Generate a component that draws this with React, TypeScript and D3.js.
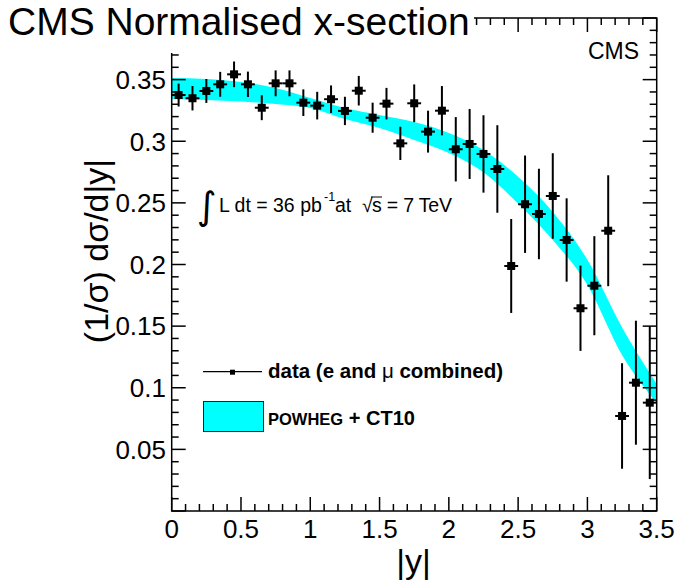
import React from "react";
import * as d3 from "d3";

// bin centres in |y| (bins of width 0.1)
const binCenters = [
  0.05, 0.15, 0.25, 0.35, 0.45, 0.55, 0.65, 0.75, 0.85, 0.95,
  1.05, 1.15, 1.25, 1.35, 1.45, 1.55, 1.65, 1.75, 1.85, 1.95,
  2.05, 2.15, 2.25, 2.35, 2.45, 2.55, 2.65, 2.75, 2.85, 2.95,
  3.05, 3.15, 3.25, 3.35, 3.45,
];
const binHalfWidth = 0.05;

// measured normalised cross-section (e and mu combined)
const dataValues = [
  0.3375, 0.3349, 0.3408, 0.3462, 0.3543, 0.3462, 0.3272, 0.347, 0.347, 0.3313,
  0.3289, 0.3341, 0.3246, 0.341, 0.3191, 0.3305, 0.2983, 0.3308, 0.3078, 0.3248,
  0.2935, 0.2978, 0.2897, 0.2775, 0.1988, 0.2489, 0.241, 0.2556, 0.2199, 0.1645,
  0.1828, 0.2274, 0.0771, 0.1041, 0.0879,
];
const dataErrors = [
  0.0093, 0.0099, 0.0097, 0.0101, 0.0104, 0.0103, 0.0101, 0.0105, 0.0105, 0.0108,
  0.0112, 0.0112, 0.0115, 0.012, 0.0122, 0.0128, 0.0135, 0.0153, 0.017, 0.02,
  0.0261, 0.0284, 0.0314, 0.0355, 0.0381, 0.0395, 0.0367, 0.0347, 0.0338, 0.0346,
  0.0402, 0.045, 0.0428, 0.0503, 0.062,
];

// POWHEG + CT10 prediction band
const bandX = [0, 0.25, 0.5, 0.75, 1.0, 1.25, 1.5, 1.75, 2.0, 2.25, 2.5, 2.75, 3.0, 3.25, 3.5];
const bandHigh = [0.3513, 0.3505, 0.3481, 0.3432, 0.3351, 0.327, 0.3213, 0.3156, 0.3067, 0.2929, 0.2712, 0.2426, 0.2038, 0.1489, 0.103];
const bandLow = [0.3343, 0.3335, 0.3323, 0.3302, 0.327, 0.3181, 0.3108, 0.3011, 0.2905, 0.2748, 0.2493, 0.2199, 0.1834, 0.1265, 0.0876];

const xTickLabels = ["0", "0.5", "1", "1.5", "2", "2.5", "3", "3.5"];
const yTickLabels = ["0.05", "0.1", "0.15", "0.2", "0.25", "0.3", "0.35"];

const FONT = "'Liberation Sans', Arial, Helvetica, sans-serif";

export default function App() {
  const W = 677;
  const H = 581;
  const left = 171.7, right = 656.7, top = 18, bottom = 511;

  const x = d3.scaleLinear().domain([0, 3.5]).range([left, right]);
  const y = d3.scaleLinear().domain([0, 0.4]).range([bottom, top]);

  const band = d3
    .area<number>()
    .x((_, i) => x(bandX[i]))
    .y0((_, i) => y(bandLow[i]))
    .y1((_, i) => y(bandHigh[i]))
    .curve(d3.curveMonotoneX);

  const isMajor = (v: number, step: number) => Math.abs(v / step - Math.round(v / step)) < 1e-6;
  const xTicks = x.ticks(35);
  const yTicks = y.ticks(40);
  const majLen = 14;
  const minLen = 7;

  return (
    <svg
      width={W}
      height={H}
      style={{ position: "absolute", left: 0, top: 0, background: "#fff" }}
      fontFamily={FONT}
    >
      {/* theory band */}
      <path d={band(bandX) || ""} fill="#00ffff" stroke="none" />

      {/* data points */}
      <g stroke="#000" strokeWidth={2}>
        {binCenters.map((c, i) => (
          <g key={i}>
            <line x1={x(c)} x2={x(c)} y1={y(dataValues[i] + dataErrors[i])} y2={y(dataValues[i] - dataErrors[i])} />
            <line x1={x(c - binHalfWidth)} x2={x(c + binHalfWidth)} y1={y(dataValues[i])} y2={y(dataValues[i])} />
            <rect x={x(c) - 4} y={y(dataValues[i]) - 4} width={8} height={8} fill="#000" stroke="none" />
          </g>
        ))}
      </g>

      {/* frame and ticks */}
      <g stroke="#000" strokeWidth={1.5} fill="none">
        <rect x={left} y={top} width={right - left} height={bottom - top} />
        {xTicks.map((t, i) => {
          const len = isMajor(t, 0.5) ? majLen : minLen;
          return (
            <g key={"x" + i}>
              <line x1={x(t)} x2={x(t)} y1={bottom} y2={bottom - len} />
              <line x1={x(t)} x2={x(t)} y1={top} y2={top + len} />
            </g>
          );
        })}
        {yTicks.map((t, i) => {
          const len = isMajor(t, 0.05) ? majLen : minLen;
          return (
            <g key={"y" + i}>
              <line x1={left} x2={left + len} y1={y(t)} y2={y(t)} />
              <line x1={right} x2={right - len} y1={y(t)} y2={y(t)} />
            </g>
          );
        })}
      </g>

      {/* tick labels */}
      <g fontSize={26} fill="#000">
        {xTickLabels.map((l) => (
          <text key={l} x={x(+l)} y={538} textAnchor="middle">
            {l}
          </text>
        ))}
        {yTickLabels.map((l) => (
          <text key={l} x={166} y={y(+l) + 9.3} textAnchor="end">
            {l}
          </text>
        ))}
      </g>

      {/* axis titles */}
      <text x={413.5} y={573} fontSize={34} textAnchor="middle">
        |y|
      </text>
      <text transform="translate(108,251) rotate(-90)" fontSize={34} textAnchor="middle">
        (1/σ) dσ/d|y|
      </text>

      {/* title box */}
      <rect x={0} y={0} width={474} height={53} fill="#fff" />
      <text x={8} y={35} fontSize={39}>
        CMS Normalised x-section
      </text>

      <text x={639} y={59} fontSize={23} textAnchor="end">
        CMS
      </text>

      {/* luminosity */}
      <text x={197} y={219} fontSize={38} fontFamily="'DejaVu Sans', sans-serif">
        ∫
      </text>
      <text y={212} fontSize={19.5}>
        <tspan x={219}>L dt = 36 pb</tspan>
        <tspan x={324} y={201} fontSize={12.5}>-1</tspan>
        <tspan x={335} y={212}>at</tspan>
        <tspan x={362}>√</tspan>
        <tspan x={372} textLength={80} lengthAdjust="spacing">s = 7 TeV</tspan>
      </text>
      <line x1={371} x2={382} y1={197} y2={197} stroke="#000" strokeWidth={1} />

      {/* legend */}
      <line x1={203} x2={262} y1={371.7} y2={371.7} stroke="#000" strokeWidth={1.2} />
      <rect x={230} y={369.7} width={5} height={5} fill="#000" />
      <text x={268} y={378} fontSize={20.5} fontWeight="bold">
        data (e and <tspan fontWeight="normal">μ</tspan> combined)
      </text>
      <rect x={203.5} y={401.5} width={60} height={30} fill="#00ffff" stroke="#222" strokeWidth={1} />
      <text x={268} y={425} fontWeight="bold">
        <tspan fontSize={16.5}>POWHEG</tspan>
        <tspan fontSize={20}> + CT10</tspan>
      </text>
    </svg>
  );
}
